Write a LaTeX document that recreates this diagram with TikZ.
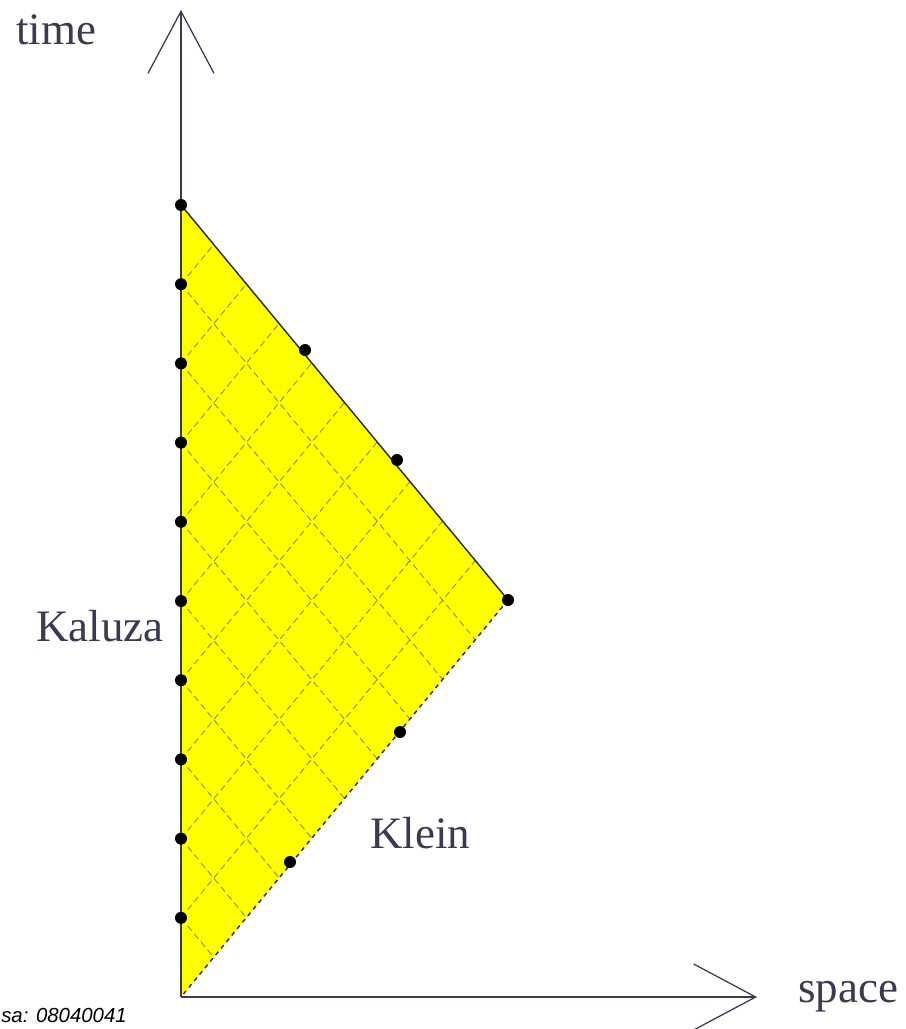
\documentclass[tikz,border=0pt]{standalone}
\usepackage{fontspec}
\setmainfont{Liberation Serif}
\newfontfamily\capfont{Liberation Sans}
\usetikzlibrary{arrows.meta}
\definecolor{inkgray}{RGB}{60,58,80}
\definecolor{conefill}{RGB}{255,255,0}
\definecolor{raycol}{RGB}{140,130,30}
\tikzset{
	axis/.style={
		draw=inkgray,
		line width=0.9pt,
		-{Straight Barb[length=1.55cm,width=1.65cm,line width=0.9pt]}
	},
	edge/.style={draw=black!85,line width=1pt},
	ray/.style={draw=raycol,line width=0.6pt,dash pattern=on 0.16cm off 0.1cm},
	dot/.style={circle,fill=black,inner sep=0pt,minimum size=0.3cm},
	lbl/.style={text=inkgray,font=\fontsize{32}{36}\selectfont,inner sep=0pt}
}
\begin{document}
\begin{tikzpicture}[x=0.025cm,y=-0.025cm]
	\useasboundingbox (0,0) rectangle (905,1029);
	\coordinate (o) at (181,997);
	\coordinate (top) at (181,205);
	\coordinate (apex) at (508,600);
	\coordinate (tend) at (181,10);
	\coordinate (send) at (757,997);

	% the cone and its rays
	\fill[conefill] (top) -- (apex) -- (o) -- cycle;
	\begin{scope}
		\clip (top) -- (apex) -- (o) -- cycle;
		\foreach \k in {1,...,9}{
			\draw[ray] (181,997-79.2*\k) -- ++(327,-397);
			\draw[ray] (181,997-79.2*\k) -- ++(327,395);
		}
	\end{scope}
	\draw[edge] (top) -- (apex);
	\draw[edge,dashed] (apex) -- (o);

	% axes
	\draw[axis] (o) -- (tend);
	\draw[axis] (o) -- (send);

	% dots
	\foreach \k in {1,...,10}
		\node[dot] (kal\k) at (181,997-79.2*\k) {};
	\node[dot] (up1) at (305,350) {};
	\node[dot] (up2) at (397,460) {};
	\node[dot] (tip) at (apex) {};
	\node[dot] (lo1) at (400,732) {};
	\node[dot] (lo2) at (290,862) {};

	% labels
	\node[lbl] (time) at (56,30) {time};
	\node[lbl] (kaluza) at (100,626) {Kaluza};
	\node[lbl] (klein) at (420,833) {Klein};
	\node[lbl] (space) at (848,997) {space};
	\node[anchor=west,inner sep=0pt,font=\capfont\itshape\fontsize{14.5}{16}\selectfont] (src) at (1,1015) {sa: 08040041};
\end{tikzpicture}
\end{document}
